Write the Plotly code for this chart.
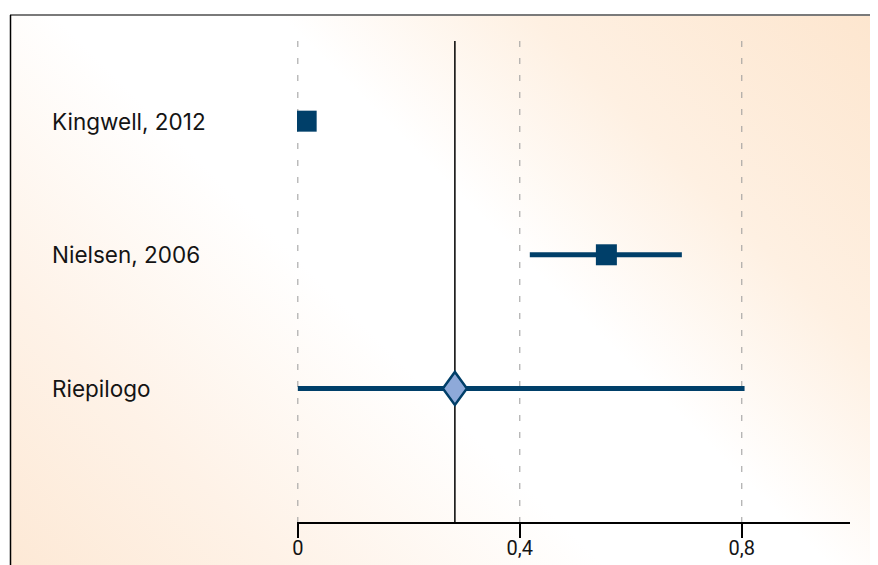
import base64
import plotly.graph_objects as go

# ---- data ----
studies = ["Kingwell, 2012", "Nielsen, 2006", "Riepilogo"]
estimates = [0.015, 0.556, 0.283]
ci_lower = [0.008, 0.418, 0.0]
ci_upper = [0.022, 0.692, 0.805]
is_summary = [False, False, True]
tick_vals = [0, 0.4, 0.8]
tick_text = ["0", "0,4", "0,8"]

NAVY = "#003f69"
DIAMOND_FILL = "#8ea9d9"

n = len(studies)
ypos = [n - i for i in range(n)]

W, H = 878, 565
ML, PW = 289, 553
MR = W - ML - PW
MT, PH = 33, 481
MB = H - MT - PH
XRANGE = [-0.0015, 0.995]

svg = f'''<svg xmlns="http://www.w3.org/2000/svg" width="{W}" height="{H}" viewBox="0 0 {W} {H}" preserveAspectRatio="none">
<defs><linearGradient id="g" gradientUnits="userSpaceOnUse" x1="-8" y1="542" x2="694" y2="-160">
<stop offset="0" stop-color="#fde9d6"/><stop offset="0.19" stop-color="#fef2e7"/><stop offset="0.42" stop-color="#ffffff"/><stop offset="0.58" stop-color="#ffffff"/><stop offset="0.76" stop-color="#fef0e2"/><stop offset="1" stop-color="#fde6cf"/></linearGradient></defs>
<rect x="0" y="0" width="{W}" height="{H}" fill="#ffffff"/>
<rect x="2" y="7" width="{W-2}" height="{H-7}" fill="url(#g)"/>
<line x1="2" y1="7" x2="{W}" y2="7" stroke="#7a7a7a" stroke-width="2"/>
<line x1="2.5" y1="7" x2="2.5" y2="{H}" stroke="#000000" stroke-width="1.5"/>
</svg>'''
src = "data:image/svg+xml;base64," + base64.b64encode(svg.encode()).decode()

fig = go.Figure()

# study rows
st_idx = [i for i in range(n) if not is_summary[i]]
fig.add_trace(go.Scatter(
    x=[estimates[i] for i in st_idx],
    y=[ypos[i] for i in st_idx],
    mode="markers",
    marker=dict(symbol="square", size=21, color=NAVY, line=dict(width=0)),
    error_x=dict(type="data", symmetric=False,
                 array=[ci_upper[i] - estimates[i] for i in st_idx],
                 arrayminus=[estimates[i] - ci_lower[i] for i in st_idx],
                 color=NAVY, thickness=5, width=0),
    showlegend=False, hoverinfo="skip",
))

# summary row (line only, diamond as shape)
sm_idx = [i for i in range(n) if is_summary[i]]
fig.add_trace(go.Scatter(
    x=[estimates[i] for i in sm_idx],
    y=[ypos[i] for i in sm_idx],
    mode="markers",
    marker=dict(size=1, color="rgba(0,0,0,0)"),
    error_x=dict(type="data", symmetric=False,
                 array=[ci_upper[i] - estimates[i] for i in sm_idx],
                 arrayminus=[estimates[i] - ci_lower[i] for i in sm_idx],
                 color=NAVY, thickness=5, width=0),
    showlegend=False, hoverinfo="skip",
))

shapes = []
# dashed grid lines at tick values
for v in tick_vals:
    shapes.append(dict(type="line", xref="x", yref="paper", x0=v, x1=v, y0=1, y1=0,
                       line=dict(color="#9a9a9a", width=1, dash="6px,11px"), layer="below"))
for i in sm_idx:
    # vertical reference line at pooled estimate
    shapes.append(dict(type="line", xref="x", yref="paper", x0=estimates[i], x1=estimates[i],
                       y0=0, y1=1, line=dict(color="#000000", width=1.5), layer="below"))
    shapes.append(dict(type="path", xref="x", yref="y", xsizemode="pixel", ysizemode="pixel",
                       xanchor=estimates[i], yanchor=ypos[i],
                       path="M -12 0 L 0 16.5 L 12 0 L 0 -16.5 Z",
                       fillcolor=DIAMOND_FILL, line=dict(color=NAVY, width=2.5), layer="above"))

annotations = []
for i in range(n):
    annotations.append(dict(text=studies[i], xref="paper", yref="y", x=(42 - ML) / PW, y=ypos[i],
                            xanchor="left", yanchor="middle", showarrow=False,
                            font=dict(family="Inter", size=22.5, color="#141414")))

fig.update_layout(
    width=W, height=H,
    margin=dict(l=ML, r=MR, t=MT, b=MB, autoexpand=False),
    paper_bgcolor="#ffffff",
    plot_bgcolor="rgba(0,0,0,0)",
    images=[dict(source=src, xref="paper", yref="paper", x=-ML / PW, y=1 + MT / PH,
                 sizex=W / PW, sizey=H / PH, xanchor="left", yanchor="top",
                 sizing="stretch", layer="below")],
    shapes=shapes,
    annotations=annotations,
    xaxis=dict(range=XRANGE, tickvals=tick_vals, ticktext=tick_text, automargin=False,
               showgrid=False, zeroline=False, showline=True, linecolor="#000000", linewidth=1.5,
               ticks="outside", ticklen=14, tickwidth=1.5, tickcolor="#000000",
               ticklabelstandoff=-7,
               tickfont=dict(family="Roboto", size=20, color="#141414"), fixedrange=True),
    yaxis=dict(range=[0, 3.6], visible=False, fixedrange=True, automargin=False),
)

fig.write_html("out.html")
